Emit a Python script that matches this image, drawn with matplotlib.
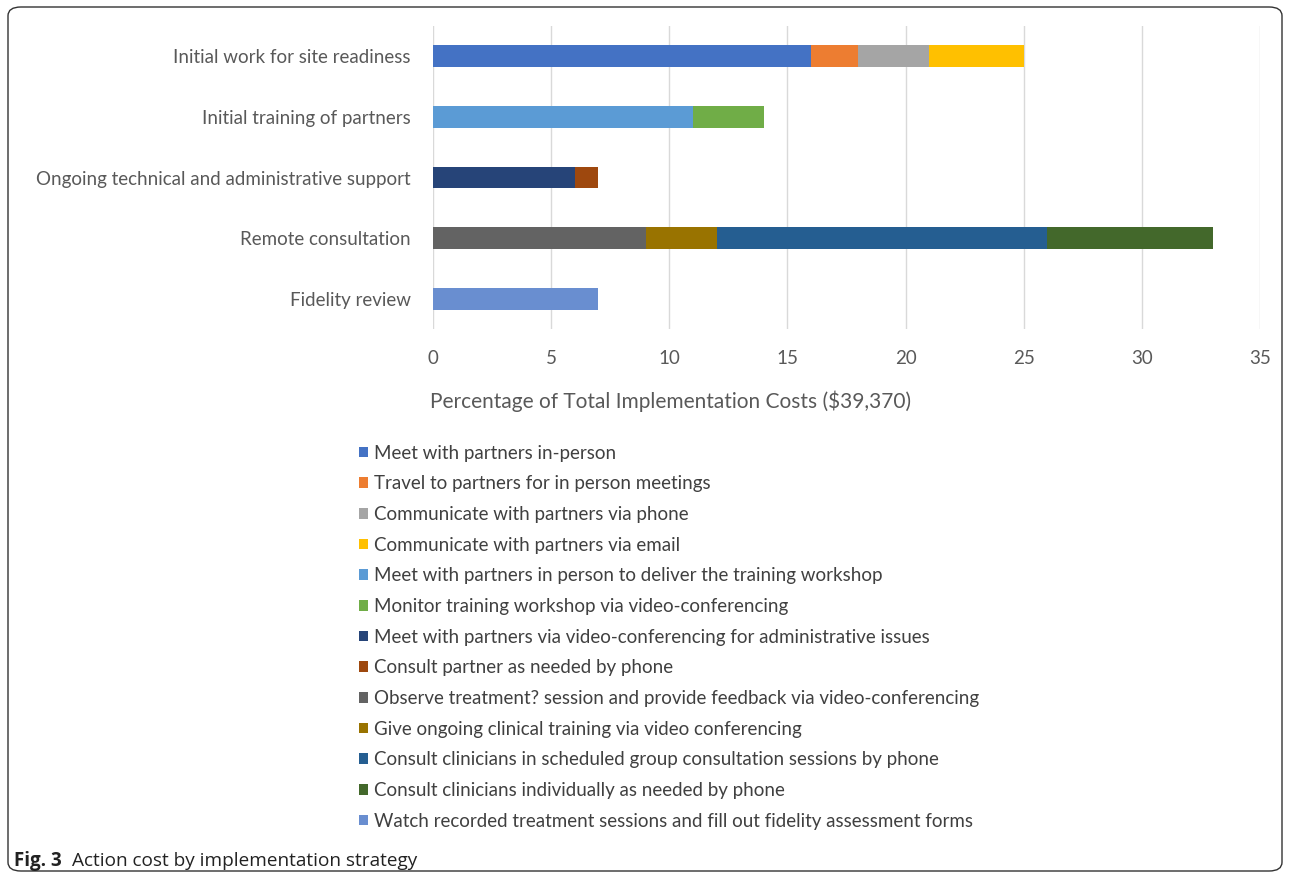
import matplotlib.pyplot as plt
import numpy as np
from matplotlib.patches import Patch, FancyBboxPatch

plt.rcParams['font.family'] = ['Lato', 'DejaVu Sans']

# categories (top to bottom)
strategies = ['Initial work for site readiness', 'Initial training of partners',
              'Ongoing technical and administrative support', 'Remote consultation',
              'Fidelity review']

# actions, which strategy each belongs to, and percent of total cost
actions = ['Meet with partners in-person',
           'Travel to partners for in person meetings',
           'Communicate with partners via phone',
           'Communicate with partners via email',
           'Meet with partners in person to deliver the training workshop',
           'Monitor training workshop via video-conferencing',
           'Meet with partners via video-conferencing for administrative issues',
           'Consult partner as needed by phone',
           'Observe treatment? session and provide feedback via video-conferencing',
           'Give ongoing clinical training via video conferencing',
           'Consult clinicians in scheduled group consultation sessions by phone',
           'Consult clinicians individually as needed by phone',
           'Watch recorded treatment sessions and fill out fidelity assessment forms']
action_row = [0, 0, 0, 0, 1, 1, 2, 2, 3, 3, 3, 3, 4]
action_pct = [16, 2, 3, 4, 11, 3, 6, 1, 9, 3, 14, 7, 7]
colors = ['#4472C4', '#ED7D31', '#A5A5A5', '#FFC000', '#5B9BD5', '#70AD47',
          '#264478', '#9E480E', '#636363', '#997300', '#255E91', '#43682B', '#698ED0']

fig = plt.figure(figsize=(12.9, 8.77), dpi=100)
ax = fig.add_axes([433 / 1290, 1 - 329 / 877, (1260 - 433) / 1290, (329 - 26) / 877])

left = np.zeros(len(strategies))
for lab, r, v, c in zip(actions, action_row, action_pct, colors):
    ax.barh(r, v, left=left[r], height=0.36, color=c, label=lab)
    left[r] += v

ax.set_ylim(4.5, -0.5)
ax.set_xlim(0, 35)
ax.set_xticks(np.arange(0, 36, 5))
ax.set_yticks(range(len(strategies)))
ax.set_yticklabels(strategies)
ax.tick_params(length=0, labelsize=13.5, colors='#595959')
ax.tick_params(axis='x', pad=15)
ax.tick_params(axis='y', pad=16)
ax.grid(axis='x', color='#D9D9D9', linewidth=1)
ax.set_axisbelow(True)
for s in ax.spines.values():
    s.set_visible(False)
ax.set_xlabel('Percentage of Total Implementation Costs ($39,370)', fontsize=15,
              color='#595959', labelpad=17, x=-0.004, ha='left')

handles = [Patch(facecolor=c) for c in colors]
leg = fig.legend(handles, actions, loc='upper left', bbox_to_anchor=(351 / 1290, 1 - 437 / 877),
                 frameon=False, fontsize=13.5, handlelength=0.5, handleheight=0.5,
                 handletextpad=0.35, labelspacing=0.73, borderaxespad=0)
for t in leg.get_texts():
    t.set_color('#404040')

# frame around the figure
fig.patches.append(FancyBboxPatch((8 / 1290, 6 / 877), 1274 / 1290, 864 / 877,
                                  boxstyle='round,pad=0,rounding_size=0.01',
                                  transform=fig.transFigure, fill=False,
                                  edgecolor='#333333', linewidth=1))

fig.text(14 / 1290, 1 - 861 / 877, 'Fig. 3', fontsize=13.5, fontweight='bold',
         family=['Open Sans', 'DejaVu Sans'], va='center', color='#222222')
fig.text(72 / 1290, 1 - 861 / 877, 'Action cost by implementation strategy', fontsize=13.7,
         family=['Open Sans', 'DejaVu Sans'], va='center', color='#222222')

fig.savefig('out.png', dpi=100)
